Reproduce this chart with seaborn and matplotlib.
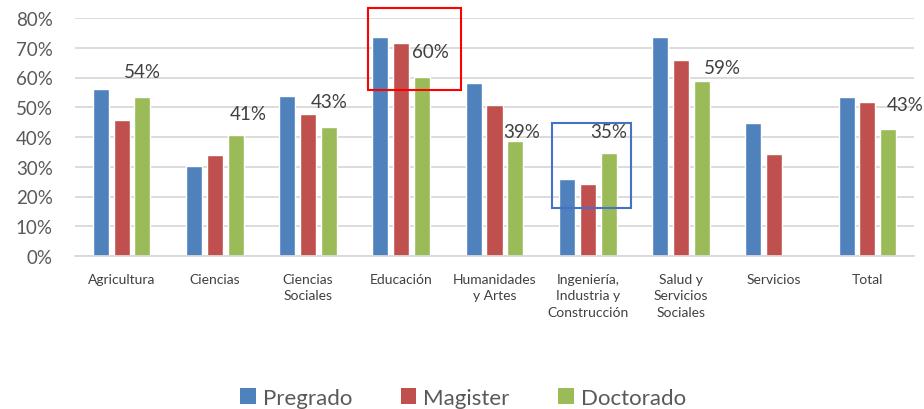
import numpy as np
import pandas as pd
import matplotlib
matplotlib.use("Agg")
import matplotlib.pyplot as plt
from matplotlib.patches import Rectangle, Patch
from matplotlib.ticker import PercentFormatter
import seaborn as sns

# Datos (proporciones)
areas = ["Agricultura", "Ciencias", "Ciencias\nSociales", "Educación",
         "Humanidades\ny Artes", "Ingeniería,\nIndustria y\nConstrucción",
         "Salud y\nServicios\nSociales", "Servicios", "Total"]
niveles = ["Pregrado", "Magister", "Doctorado"]
pregrado = [0.561, 0.303, 0.538, 0.737, 0.582, 0.258, 0.737, 0.446, 0.535]
magister = [0.458, 0.341, 0.476, 0.716, 0.508, 0.242, 0.658, 0.342, 0.517]
doctorado = [0.536, 0.407, 0.434, 0.603, 0.386, 0.347, 0.587, np.nan, 0.428]

colores = ["#4F81BD", "#C0504D", "#9BBB59"]
# desplazamiento de las etiquetas (px) respecto al tope de la barra verde
label_nudge = [(0, 25), (13, 21), (0, 25), (8, 25), (6, 10), (0, 21), (21, 14), (0, 0), (17, 24)]

sns.set_style("white")
plt.rcParams["font.family"] = ["Lato", "DejaVu Sans"]

rows = []
for serie, vals in zip(niveles, [pregrado, magister, doctorado]):
    for area, v in zip(areas, vals):
        if not np.isnan(v):
            rows.append({"area": area, "nivel": serie, "valor": v})
df = pd.DataFrame(rows)

fig = plt.figure(figsize=(9.24, 4.10), dpi=100)
ax = fig.add_axes([75 / 924, 1 - 257 / 410, 839 / 924, 238 / 410])

sns.barplot(data=df, x="area", y="valor", hue="nivel", order=areas,
            hue_order=niveles, palette=colores, saturation=1,
            width=0.67, gap=0.23, errorbar=None, legend=False, ax=ax)

ax.set_ylim(0, 0.8)
ax.set_xlim(-0.5, len(areas) - 0.5)
ax.set_yticks(np.arange(0, 0.81, 0.1))
ax.yaxis.set_major_formatter(PercentFormatter(1.0, decimals=0))
ax.grid(axis="y", color="#D9D9D9", linewidth=1.3)
ax.set_axisbelow(True)
for s in ["top", "right", "left"]:
    ax.spines[s].set_visible(False)
ax.spines["bottom"].set_color("#D9D9D9")
ax.spines["bottom"].set_linewidth(1.3)
ax.set_xlabel("")
ax.set_ylabel("")
ax.tick_params(axis="y", length=0, labelsize=13.5, labelcolor="#595959", pad=16)
ax.tick_params(axis="x", length=0, labelsize=10, labelcolor="#404040", pad=12)
for t in ax.get_xticklabels():
    t.set_linespacing(1.45)
    t.set_va("top")

# etiquetas de Doctorado
for i, v in enumerate(doctorado):
    if np.isnan(v):
        continue
    xc = i + (0.67 / 3)
    dx, dy = label_nudge[i]
    ax.annotate(f"{v:.0%}", (xc, v), xytext=(dx, dy), textcoords="offset pixels",
                ha="center", va="center", fontsize=13.5, color="#404040",
                annotation_clip=False)

# recuadros destacados
ax.add_patch(Rectangle((3 - 0.353, 0.558), 0.99, 0.276, fill=False,
                       edgecolor="#FF0000", linewidth=1.5, clip_on=False, zorder=5))
ax.add_patch(Rectangle((5 - 0.387, 0.161), 0.85, 0.286, fill=False,
                       edgecolor="#4472C4", linewidth=1.5, clip_on=False, zorder=5))

handles = [Patch(facecolor=c, edgecolor="none") for c in colores]
fig.legend(handles, niveles, loc="center", bbox_to_anchor=(463 / 924, 1 - 399 / 410),
           ncol=3, frameon=False, fontsize=16, labelcolor="#595959",
           handlelength=0.7, handleheight=0.7, handletextpad=0.3, columnspacing=2.2)

fig.savefig("out.png", dpi=100)
